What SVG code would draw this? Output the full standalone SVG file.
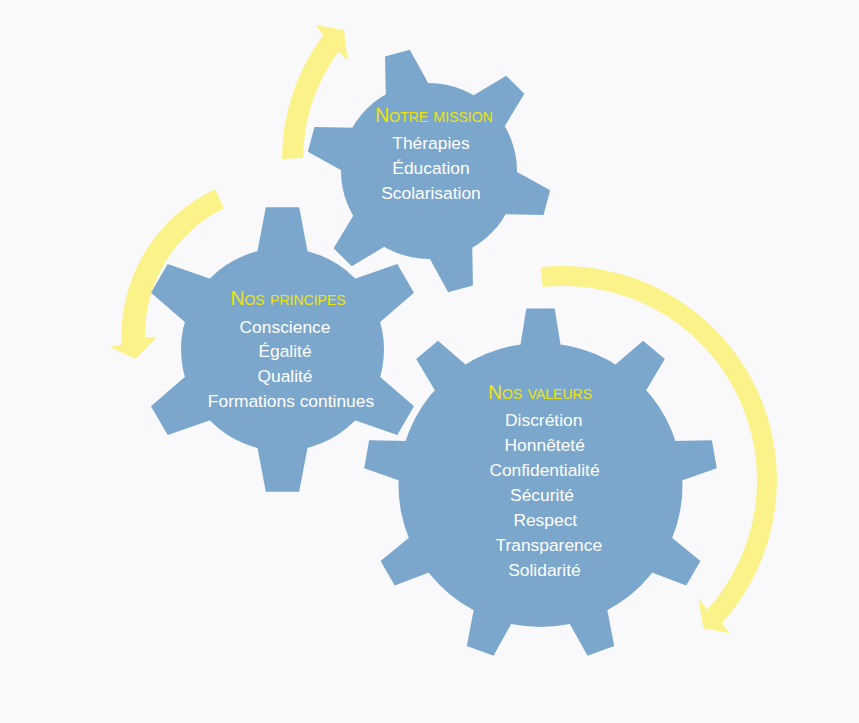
<svg xmlns="http://www.w3.org/2000/svg" width="859" height="723" viewBox="0 0 859 723">
<style>
.gear{fill:#7BA7CC}
.arrow{fill:#FBF38A}
.title{font-family:"Liberation Sans",Arial,sans-serif;font-size:19.5px;font-variant:small-caps;fill:#EFE30A;text-anchor:middle}
.item{font-family:"Liberation Sans",Arial,sans-serif;font-size:17.4px;fill:#FFFFFF;text-anchor:middle}
</style>
<defs>
<polygon id="t1" points="-12.8,-122 12.8,-122 25.7,-70 -25.7,-70"/>
<polygon id="t2" points="-16.7,-142.2 16.7,-142.2 28.5,-80 -28.5,-80"/>
<polygon id="t3" points="-14.2,-176.5 14.2,-176.5 22.5,-125 -22.5,-125"/>
</defs>
<rect x="0" y="0" width="859" height="723" fill="#F9F9FB"/>
<g id="connectors">
<path class="arrow" d="M282,159 A208,208 0 0 1 323.3,35 L315.7,25 L344,30 L347.7,60.7 L338.3,51.7 A187,187 0 0 0 303,158 Z"/>
<path class="arrow" d="M215,189.3 A162,162 0 0 0 121.7,345 L109.3,346.7 L135.7,359 L157.3,336.7 L145,337.3 A141,141 0 0 1 224,208.3 Z"/>
<path class="arrow" d="M540.6,267.2 A214,214 0 0 1 722,623.2 L730,633.3 L703.3,628.3 L698.3,598.3 L707.2,609.8 A194,194 0 0 0 542.7,287.1 Z"/>
</g>
<g id="gear-mission">
<g class="gear" transform="translate(429,171)">
<circle r="88"/>
<use href="#t1" transform="rotate(-15)"/>
<use href="#t1" transform="rotate(45)"/>
<use href="#t1" transform="rotate(105)"/>
<use href="#t1" transform="rotate(165)"/>
<use href="#t1" transform="rotate(225)"/>
<use href="#t1" transform="rotate(285)"/>
</g>
<text class="title" x="434" y="122.3">Notre mission</text>
<text class="item" x="431" y="149.3">Thérapies</text>
<text class="item" x="431" y="174.3">Éducation</text>
<text class="item" x="431" y="199.3">Scolarisation</text>
</g>
<g id="gear-principes">
<g class="gear" transform="translate(282.5,349.5)">
<circle r="101.5"/>
<use href="#t2" transform="rotate(0)"/>
<use href="#t2" transform="rotate(60)"/>
<use href="#t2" transform="rotate(120)"/>
<use href="#t2" transform="rotate(180)"/>
<use href="#t2" transform="rotate(240)"/>
<use href="#t2" transform="rotate(300)"/>
</g>
<text class="title" x="288" y="305">Nos principes</text>
<text class="item" x="285" y="332.5">Conscience</text>
<text class="item" x="285" y="357">Égalité</text>
<text class="item" x="285" y="382">Qualité</text>
<text class="item" x="291" y="406.5">Formations continues</text>
</g>
<g id="gear-valeurs">
<g class="gear" transform="translate(540.5,485)">
<circle r="142"/>
<use href="#t3" transform="rotate(0)"/>
<use href="#t3" transform="rotate(40)"/>
<use href="#t3" transform="rotate(80)"/>
<use href="#t3" transform="rotate(120)"/>
<use href="#t3" transform="rotate(160)"/>
<use href="#t3" transform="rotate(200)"/>
<use href="#t3" transform="rotate(240)"/>
<use href="#t3" transform="rotate(280)"/>
<use href="#t3" transform="rotate(320)"/>
</g>
<text class="title" x="540" y="399">Nos valeurs</text>
<text class="item" x="543.7" y="425.7">Discrétion</text>
<text class="item" x="544.7" y="450.7">Honnêteté</text>
<text class="item" x="544.5" y="475.7">Confidentialité</text>
<text class="item" x="542" y="500.7">Sécurité</text>
<text class="item" x="545.3" y="525.7">Respect</text>
<text class="item" x="548.8" y="550.7">Transparence</text>
<text class="item" x="544.5" y="575.7">Solidarité</text>
</g>
</svg>
